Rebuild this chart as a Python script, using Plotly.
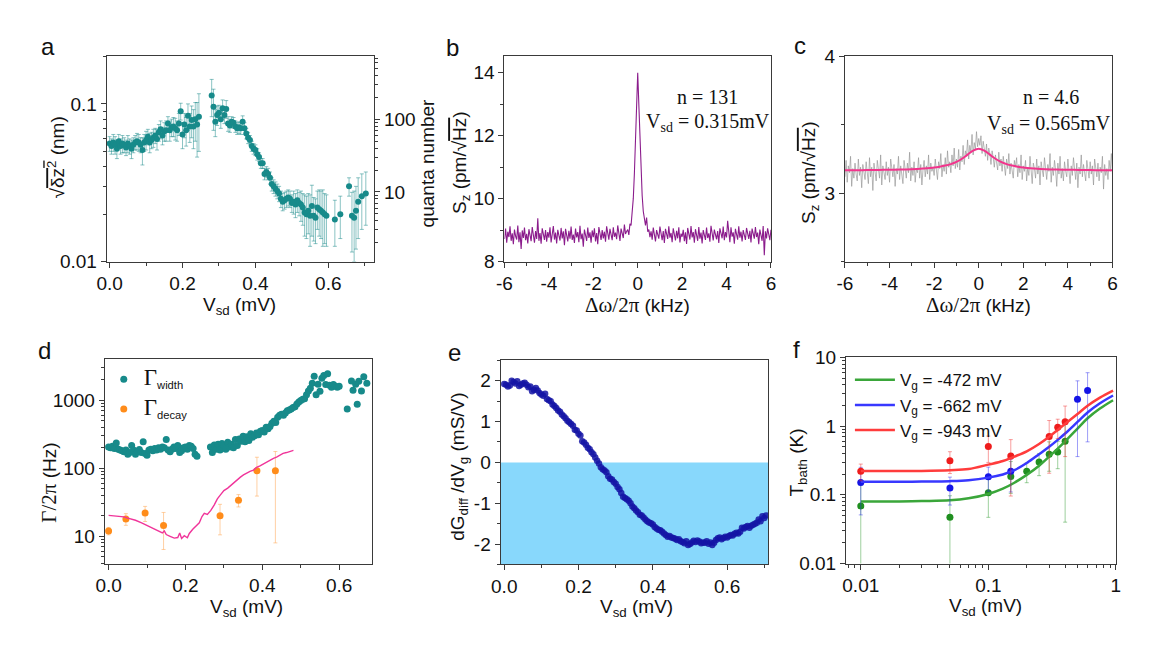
import numpy as np
import plotly.graph_objects as go

W, H = 1152, 650

# ---------------- (a) ----------------
a_vsd = [0.000,0.005,0.010,0.015,0.020,0.025,0.030,0.035,0.040,0.045,
         0.050,0.055,0.060,0.065,0.070,0.075,0.080,0.085,0.090,0.095,
         0.100,0.105,0.110,0.115,0.120,0.125,0.130,0.135,0.140,0.145,
         0.150,0.155,0.160,0.165,0.170,0.175,0.180,0.185,0.190,0.195,
         0.200,0.205,0.210,0.215,0.220,0.225,0.230,0.235,0.240,0.245,
         0.280,0.285,0.290,0.295,0.300,0.305,0.310,0.315,0.320,0.325,
         0.330,0.335,0.340,0.345,0.350,0.355,0.360,0.365,0.370,0.375,
         0.380,0.385,0.390,0.395,0.400,0.405,0.410,0.415,0.420,0.425,
         0.430,0.435,0.440,0.445,0.450,0.455,0.460,0.465,0.470,0.475,
         0.480,0.485,0.490,0.495,0.500,0.505,0.510,0.515,0.520,0.525,
         0.530,0.535,0.540,0.545,0.550,0.555,0.560,0.565,0.570,0.575,
         0.580,0.585,0.590,0.595,
         0.618,0.633,0.657,0.665,0.671,0.676,0.682,0.692,0.703]
a_dz = [0.056,0.054,0.057,0.055,0.052,0.058,0.054,0.056,0.055,0.053,
        0.056,0.054,0.052,0.055,0.057,0.058,0.057,0.055,0.051,0.057,
        0.059,0.062,0.057,0.059,0.061,0.063,0.060,0.066,0.069,0.063,
        0.067,0.068,0.075,0.068,0.071,0.072,0.070,0.068,0.075,0.090,
        0.064,0.074,0.068,0.084,0.072,0.079,0.072,0.080,0.074,0.083,
        0.113,0.096,0.077,0.085,0.088,0.080,0.094,0.085,0.093,0.075,
        0.073,0.077,0.076,0.072,0.070,0.071,0.070,0.077,0.070,0.065,
        0.061,0.059,0.054,0.052,0.051,0.048,0.046,0.042,0.042,0.036,
        0.037,0.036,0.034,0.031,0.030,0.029,0.028,0.027,0.025,0.024,
        0.0245,0.025,0.0255,0.025,0.0235,0.024,0.023,0.0245,0.0235,0.023,
        0.022,0.0205,0.020,0.021,0.0195,0.0225,0.0195,0.019,0.022,0.0215,
        0.021,0.0205,0.020,0.0195,
        0.0185,0.020,0.030,0.0195,0.019,0.021,0.024,0.026,0.027]
a_err = [0.006,0.006,0.007,0.007,0.007,0.006,0.006,0.007,0.006,0.006,
         0.007,0.006,0.007,0.006,0.006,0.007,0.007,0.006,0.010,0.007,
         0.008,0.007,0.008,0.007,0.008,0.007,0.009,0.008,0.009,0.008,
         0.009,0.010,0.008,0.010,0.009,0.010,0.011,0.010,0.012,0.011,
         0.012,0.013,0.014,0.016,0.015,0.018,0.020,0.022,0.028,0.033,
         0.030,0.028,0.015,0.012,0.010,0.010,0.012,0.010,0.012,0.008,
         0.007,0.006,0.006,0.006,0.006,0.006,0.006,0.007,0.006,0.005,
         0.005,0.004,0.004,0.004,0.004,0.004,0.003,0.003,0.003,0.003,
         0.003,0.003,0.003,0.003,0.003,0.003,0.003,0.003,0.003,0.003,
         0.003,0.003,0.003,0.003,0.003,0.004,0.004,0.004,0.004,0.005,
         0.005,0.006,0.006,0.006,0.007,0.008,0.006,0.006,0.006,0.007,
         0.007,0.008,0.007,0.007,
         0.006,0.006,0.004,0.008,0.009,0.009,0.010,0.010,0.010]

# ---------------- (b) ----------------
b_freq = np.round(np.arange(-6.0, 6.0001, 0.05), 2)
b_sz = [8.72,9.05,8.60,8.95,8.78,9.12,8.66,8.90,8.55,9.02,8.81,8.70,9.15,8.62,8.93,8.40,8.99,8.75,9.08,8.68,
        8.88,8.58,9.03,8.79,8.65,9.10,8.84,8.60,8.97,8.72,9.38,8.66,8.91,8.57,9.06,8.80,8.69,9.00,8.63,8.94,
        8.76,9.09,8.61,8.87,9.13,8.70,8.92,8.58,9.01,8.83,8.67,9.07,8.74,8.96,8.52,9.04,8.82,8.64,8.98,8.73,
        9.11,8.69,8.86,8.59,9.05,8.77,8.94,8.62,9.14,8.71,8.89,8.47,9.02,8.80,8.66,9.08,8.75,8.93,8.60,8.99,
        8.78,9.06,8.64,8.91,8.55,9.10,8.83,8.69,9.00,8.74,8.95,8.63,9.12,8.81,8.70,9.04,8.86,8.68,9.09,8.79,
        8.92,8.71,9.15,8.84,8.66,9.05,8.90,8.75,9.18,8.88,8.96,9.02,8.85,9.20,9.15,9.50,10.00,10.80,11.80,12.90,
        14.00,
        13.00,11.90,10.90,10.10,9.60,9.30,9.15,9.40,8.95,9.02,8.78,8.96,8.70,9.08,8.82,8.64,9.00,8.86,8.73,9.11,
        8.80,8.68,8.97,8.59,9.04,8.85,8.72,9.12,8.76,8.91,8.62,9.06,8.83,8.67,8.98,8.74,9.09,8.61,8.89,8.79,
        9.01,8.65,8.93,8.56,9.07,8.81,8.70,9.13,8.77,8.94,8.60,9.03,8.85,8.66,9.10,8.73,8.92,8.58,9.00,8.84,
        8.69,9.08,8.75,8.90,8.63,9.14,8.80,8.67,9.02,8.86,8.71,8.97,8.59,9.06,8.82,8.74,9.11,8.68,8.94,8.77,
        9.30,8.88,8.62,9.09,8.79,8.93,8.57,9.04,8.83,8.70,9.12,8.76,8.95,8.64,9.00,8.81,8.69,9.07,8.85,8.72,
        8.98,8.61,9.05,8.84,8.73,9.10,8.78,8.92,8.55,9.02,8.87,8.66,9.13,8.20,8.96,8.74,9.06,8.80,8.68,9.01]

# ---------------- (c) ----------------
c_freq = np.round(np.arange(-6.0, 6.0001, 0.05), 2)
c_sz = [3.12,3.24,3.08,3.20,3.15,3.27,3.05,3.18,3.11,3.22,3.14,3.09,3.25,3.13,3.19,3.04,3.21,3.16,3.10,3.23,
        3.17,3.07,3.26,3.12,3.19,3.02,3.22,3.14,3.09,3.24,3.18,3.11,3.28,3.06,3.20,3.15,3.10,3.23,3.13,3.19,
        3.08,3.25,3.16,3.12,3.21,3.05,3.18,3.14,3.27,3.10,3.20,3.13,3.07,3.24,3.17,3.11,3.22,3.15,3.30,3.09,
        3.19,3.13,3.23,3.08,3.18,3.15,3.26,3.11,3.21,3.06,3.17,3.24,3.12,3.20,3.14,3.28,3.10,3.22,3.16,3.19,
        3.13,3.25,3.17,3.10,3.23,3.18,3.29,3.12,3.21,3.16,3.26,3.14,3.31,3.19,3.23,3.15,3.28,3.20,3.33,3.18,
        3.25,3.19,3.32,3.17,3.27,3.23,3.35,3.21,3.31,3.27,3.39,3.25,3.35,3.30,3.43,3.28,3.37,3.32,3.45,3.34,
        3.40,
        3.35,3.42,3.29,3.38,3.32,3.27,3.36,3.24,3.33,3.29,3.21,3.31,3.26,3.19,3.28,3.23,3.17,3.30,3.20,3.25,
        3.16,3.27,3.20,3.13,3.25,3.18,3.29,3.14,3.22,3.17,3.11,3.24,3.19,3.26,3.12,3.21,3.15,3.28,3.10,3.20,
        3.16,3.24,3.09,3.19,3.13,3.27,3.15,3.07,3.22,3.18,3.11,3.25,3.14,3.20,3.06,3.23,3.17,3.12,3.26,3.15,
        3.10,3.21,3.16,3.29,3.08,3.19,3.13,3.24,3.17,3.05,3.22,3.14,3.27,3.11,3.18,3.09,3.23,3.16,3.12,3.25,
        3.15,3.07,3.20,3.13,3.26,3.17,3.10,3.22,3.04,3.19,3.14,3.28,3.12,3.21,3.16,3.09,3.24,3.18,3.11,3.23,
        3.14,3.20,3.06,3.25,3.17,3.12,3.22,3.09,3.19,3.15,3.27,3.03,3.21,3.13,3.18,3.10,3.24,3.16,3.29,3.14]
c_fit_freq = [-6,-5.5,-5,-4.5,-4,-3.5,-3,-2.5,-2,-1.75,-1.5,-1.25,-1,-0.75,-0.5,-0.25,0,
              0.25,0.5,0.75,1,1.25,1.5,1.75,2,2.5,3,3.5,4,4.5,5,5.5,6]
c_fit_sz = [3.168,3.168,3.169,3.170,3.172,3.173,3.176,3.181,3.188,3.194,3.202,3.213,3.229,3.252,3.282,3.311,3.325,
            3.311,3.282,3.252,3.229,3.213,3.202,3.194,3.188,3.181,3.176,3.173,3.172,3.170,3.169,3.168,3.168]

# ---------------- (d) ----------------
d_vsd_w = [0.000,0.005,0.010,0.015,0.020,0.025,0.030,0.035,0.040,0.045,
           0.050,0.055,0.060,0.065,0.070,0.075,0.080,0.085,0.090,0.095,
           0.100,0.105,0.110,0.115,0.120,0.125,0.130,0.135,0.140,0.145,
           0.150,0.155,0.160,0.165,0.170,0.175,0.180,0.185,0.190,0.195,
           0.200,0.205,0.210,0.215,0.220,0.225,0.230,
           0.265,0.270,0.275,0.280,0.285,0.290,0.295,0.300,0.305,0.310,
           0.315,0.320,0.325,0.330,0.335,0.340,0.345,0.350,0.355,0.360,
           0.365,0.370,0.375,0.380,0.385,0.390,0.395,0.400,0.405,0.410,
           0.415,0.420,0.425,0.430,0.435,0.440,0.445,0.450,0.455,0.460,
           0.465,0.470,0.475,0.480,0.485,0.490,0.495,0.500,0.505,0.510,
           0.515,0.520,0.525,0.530,0.535,0.540,0.545,0.550,0.555,0.560,
           0.565,0.570,0.575,0.580,0.585,0.590,0.595,0.600,
           0.621,0.632,0.636,0.643,0.647,0.651,0.658,0.664,0.672]
d_width = [205,200,210,195,235,190,185,180,175,185,
           160,170,215,185,160,178,188,170,245,165,
           155,185,190,180,195,185,200,190,205,200,
           265,185,175,190,205,195,215,170,180,200,
           205,190,215,210,195,160,150,
           205,170,220,190,225,185,230,215,190,240,
           205,225,200,265,215,270,250,295,245,290,
           255,320,285,300,330,310,350,360,340,400,
           380,410,460,490,470,560,600,620,600,650,
           700,720,740,780,800,880,940,990,1030,1050,
           1200,1360,1500,1780,2250,1200,1720,1350,2100,2300,
           1700,2450,1650,1550,1700,1600,1550,1600,
           740,1920,1400,1720,870,1900,1360,2200,1780]
d_vsd_decay = [0.000,0.045,0.095,0.143,0.290,0.338,0.386,0.434]
d_decay = [12.0,18.0,22.0,14.4,20.0,34.0,92.0,92.0]
d_decay_err = [1.5,3.5,5.5,8.0,9.5,7.0,53.0,84.0]
d_fit_vsd = [0.000,0.020,0.040,0.050,0.070,0.086,0.100,0.120,0.130,0.140,0.145,0.150,0.160,0.171,
             0.180,0.185,0.190,0.197,0.205,0.210,0.219,0.230,0.236,0.243,0.249,0.257,0.266,0.275,
             0.283,0.290,0.300,0.310,0.318,0.326,0.335,0.343,0.351,0.360,0.368,0.377,0.385,0.394,
             0.403,0.412,0.420,0.429,0.437,0.446,0.454,0.463,0.472,0.481]
d_fit = [20.3,20.0,19.3,18.5,17.2,15.8,14.5,12.7,12.0,11.2,12.0,10.6,10.0,9.4,
         9.6,11.2,9.3,10.2,9.5,11.0,12.7,14.5,15.8,19.5,21.8,21.0,24.0,29.0,
         35.5,40.0,47.0,51.0,56.0,62.0,68.0,74.0,80.0,86.0,90.0,94.0,103.0,108.0,
         116.0,124.0,131.0,140.0,146.0,156.0,165.0,170.0,176.0,183.0]

# ---------------- (e) ----------------
e_vsd = np.round(np.arange(0.0, 0.7051, 0.005), 3)
e_dgdv = [1.92,1.90,1.86,1.88,2.00,1.97,1.93,1.99,1.87,1.90,
          1.93,1.95,1.90,1.84,1.86,1.74,1.78,1.82,1.76,1.70,
          1.66,1.63,1.68,1.55,1.52,1.50,1.42,1.38,1.33,1.27,
          1.24,1.17,1.13,1.08,1.02,0.98,0.94,0.90,0.80,0.78,
          0.70,0.66,0.52,0.49,0.43,0.36,0.32,0.25,0.20,0.12,
          0.04,-0.03,-0.12,-0.17,-0.20,-0.24,-0.34,-0.40,-0.42,-0.48,
          -0.52,-0.60,-0.66,-0.75,-0.84,-0.87,-0.90,-0.94,-1.00,-1.08,
          -1.12,-1.18,-1.22,-1.28,-1.30,-1.35,-1.40,-1.44,-1.47,-1.49,
          -1.52,-1.58,-1.62,-1.65,-1.66,-1.70,-1.74,-1.78,-1.82,-1.80,
          -1.84,-1.85,-1.87,-1.90,-1.88,-1.93,-1.95,-1.98,-1.93,-2.02,
          -2.00,-1.96,-1.92,-1.95,-1.91,-1.94,-1.98,-1.96,-1.97,-1.93,
          -1.99,-1.96,-2.02,-1.97,-1.90,-1.86,-1.84,-1.88,-1.85,-1.82,
          -1.84,-1.80,-1.78,-1.79,-1.75,-1.72,-1.74,-1.70,-1.60,-1.62,
          -1.58,-1.56,-1.60,-1.55,-1.53,-1.50,-1.48,-1.40,-1.44,-1.32,
          -1.36,-1.30]

# ---------------- (f) ----------------
f_labels = ["V<sub>g</sub> = -472 mV", "V<sub>g</sub> = -662 mV", "V<sub>g</sub> = -943 mV"]
f_vsd_g = [0.01,0.05,0.10,0.15,0.20,0.25,0.30,0.35,0.40]
f_t_g = [0.069,0.047,0.107,0.185,0.22,0.30,0.39,0.42,0.60]
f_ep_g = [0.07,0.05,0.06,0.12,0.07,0.10,0.20,0.18,0.56]
f_em_g = [0.07,0.05,0.06,0.08,0.07,0.11,0.17,0.18,0.56]
f_vsd_b = [0.01,0.05,0.10,0.15,0.50,0.60]
f_t_b = [0.151,0.126,0.183,0.22,2.46,3.29]
f_e_b = [0.10,0.055,0.07,0.11,2.1,2.7]
f_vsd_r = [0.01,0.05,0.10,0.15,0.30,0.35,0.40]
f_t_r = [0.22,0.314,0.506,0.366,0.706,0.96,1.16]
f_e_r = [0.06,0.11,0.21,0.27,0.50,0.30,0.80]
f_fit_vsd = [0.01,0.02,0.03,0.05,0.07,0.10,0.13,0.16,0.20,0.25,0.30,0.35,0.40,0.50,0.60,0.75,0.95]
f_fit_g = [0.080,0.080,0.081,0.083,0.089,0.103,0.123,0.150,0.195,0.265,0.36,0.47,0.60,0.92,1.30,1.80,2.38]
f_fit_b = [0.155,0.155,0.156,0.158,0.163,0.178,0.198,0.228,0.29,0.39,0.50,0.63,0.78,1.15,1.58,2.15,2.79]
f_fit_r = [0.222,0.222,0.223,0.228,0.237,0.275,0.31,0.36,0.43,0.55,0.70,0.88,1.08,1.50,1.98,2.60,3.29]

# ---------------- helpers ----------------
def xd(l, r):
    return [l / W, r / W]

def yd(t, b):
    return [1 - b / H, 1 - t / H]

FRAME = "#3a3a3a"
TICKFONT = dict(family="Liberation Sans", size=19, color="#111")

def ax(**kw):
    base = dict(showline=True, linecolor=FRAME, linewidth=1, mirror=True,
                ticks="outside", ticklen=5, tickwidth=1, tickcolor=FRAME,
                showgrid=False, zeroline=False, tickfont=TICKFONT)
    base.update(kw)
    return base

TEAL = "#178a8a"
fig = go.Figure()

# (a)
fig.add_trace(go.Scatter(x=a_vsd, y=a_dz, mode="markers", xaxis="x", yaxis="y",
                         marker=dict(color=TEAL, size=6),
                         error_y=dict(type="data", array=a_err, color="rgba(23,138,138,0.5)",
                                      thickness=1, width=2),
                         showlegend=False))
fig.add_trace(go.Scatter(x=[], y=[], xaxis="x", yaxis="y7", showlegend=False))

# (b)
fig.add_trace(go.Scatter(x=b_freq, y=b_sz, mode="lines", xaxis="x2", yaxis="y2",
                         line=dict(color="#8b1c8c", width=1.1), showlegend=False))

# (c)
fig.add_trace(go.Scatter(x=c_freq, y=c_sz, mode="lines", xaxis="x3", yaxis="y3",
                         line=dict(color="rgba(150,150,150,0.85)", width=0.8), showlegend=False))
fig.add_trace(go.Scatter(x=c_fit_freq, y=c_fit_sz, mode="lines", xaxis="x3", yaxis="y3",
                         line=dict(color="#f2348c", width=2, shape="spline"), showlegend=False))

# (d)
serif_G = "<span style='font-family:Liberation Serif;font-size:23px'>Γ</span>"
fig.add_trace(go.Scatter(x=d_vsd_w, y=d_width, mode="markers", xaxis="x4", yaxis="y4",
                         marker=dict(color=TEAL, size=7), name=serif_G + "<sub>width</sub>",
                         legend="legend", legendgroup="gw"))
fig.add_trace(go.Scatter(x=d_vsd_decay, y=d_decay, mode="markers", xaxis="x4", yaxis="y4",
                         marker=dict(color="#ff8c1a", size=7), name=serif_G + "<sub>decay</sub>",
                         error_y=dict(type="data", array=d_decay_err, color="rgba(255,170,90,0.55)",
                                      thickness=1, width=2),
                         legend="legend", legendgroup="gd"))
fig.add_trace(go.Scatter(x=d_fit_vsd, y=d_fit, mode="lines", xaxis="x4", yaxis="y4",
                         line=dict(color="#f0359a", width=1.4), showlegend=False))

# (e)
fig.add_trace(go.Scatter(x=e_vsd, y=e_dgdv, mode="markers", xaxis="x5", yaxis="y5",
                         marker=dict(color="rgba(20,20,165,0.85)", size=6.5), showlegend=False))

# (f)
f_sets = [(f_vsd_g, f_t_g, f_ep_g, f_em_g, f_fit_g, "#1f8f1f", "#3aa63a", "rgba(40,150,40,0.45)"),
          (f_vsd_b, f_t_b, f_e_b, f_e_b, f_fit_b, "#1414e6", "#3838ff", "rgba(40,40,240,0.45)"),
          (f_vsd_r, f_t_r, f_e_r, f_e_r, f_fit_r, "#ee1c1c", "#ff3c3c", "rgba(240,40,40,0.45)")]
for (vx, ty, ep, em, fit, pc, lc, ec), lab in zip(f_sets, f_labels):
    fig.add_trace(go.Scatter(x=vx, y=ty, mode="markers", xaxis="x6", yaxis="y6",
                             marker=dict(color=pc, size=7),
                             error_y=dict(type="data", array=ep, arrayminus=em, color=ec,
                                          thickness=1, width=2),
                             showlegend=False))
    fig.add_trace(go.Scatter(x=f_fit_vsd, y=fit, mode="lines", xaxis="x6", yaxis="y6",
                             line=dict(color=lc, width=2.5, shape="spline"), name=lab,
                             legend="legend2"))

minor_lin = lambda d: dict(dtick=d, ticks="outside", ticklen=3, tickcolor=FRAME)
minor_log = dict(dtick="D1", ticks="outside", ticklen=3, tickcolor=FRAME)
pm_ticks = dict(tickvals=[-6, -4, -2, 0, 2, 4, 6], ticktext=["-6", "-4", "-2", "0", "2", "4", "6"])

layout = dict(
    width=W, height=H, margin=dict(l=0, r=0, t=0, b=0),
    paper_bgcolor="white", plot_bgcolor="white",
    xaxis=ax(domain=xd(98, 369), anchor="y", range=[-0.008, 0.726], dtick=0.2, tick0=0,
             tickformat=".1f", minor=minor_lin(0.1)),
    yaxis=ax(domain=yd(48, 260), anchor="x", type="log", range=[-2, np.log10(0.2)], dtick=1,
             minor=minor_log),
    yaxis7=ax(overlaying="y", side="right", anchor="x", type="log", range=[0.04, 2.867], dtick=1,
              mirror=False, minor=minor_log),
    xaxis2=ax(domain=xd(501, 771), anchor="y2", range=[-6, 6], minor=minor_lin(1), **pm_ticks),
    yaxis2=ax(domain=yd(48, 260), anchor="x2", range=[8, 14.52], dtick=2, minor=minor_lin(1)),
    xaxis3=ax(domain=xd(846, 1117), anchor="y3", range=[-6, 6], minor=minor_lin(1), **pm_ticks),
    yaxis3=ax(domain=yd(48, 260), anchor="x3", range=[2.5, 4.0], dtick=1, minor=minor_lin(0.5)),
    xaxis4=ax(domain=xd(96, 367), anchor="y4", range=[-0.01, 0.686], dtick=0.2, tick0=0,
              tickformat=".1f", minor=minor_lin(0.1)),
    yaxis4=ax(domain=yd(361, 572), anchor="x4", type="log", range=[0.6, 3.6], dtick=1,
              exponentformat="none", minor=minor_log),
    xaxis5=ax(domain=xd(497, 768), anchor="y5", range=[-0.01, 0.71], dtick=0.2, tick0=0,
              tickformat=".1f", minor=minor_lin(0.1)),
    yaxis5=ax(domain=yd(362, 573), anchor="x5", range=[-2.5, 2.5],
              tickvals=[-2, -1, 0, 1, 2], ticktext=["-2", "-1", "0", "1", "2"], minor=minor_lin(0.5)),
    xaxis6=ax(domain=xd(847, 1121), anchor="y6", type="log", range=[-2.116, 0.004], dtick=1,
              minor=minor_log),
    yaxis6=ax(domain=yd(359, 572), anchor="x6", type="log", range=[-2, 1], dtick=1,
              minor=minor_log),
    legend=dict(x=95 / W, y=1 - 364 / H, xanchor="left", yanchor="top",
                bgcolor="rgba(0,0,0,0)", font=dict(family="Liberation Sans", size=16, color="#111"),
                tracegroupgap=6),
    legend2=dict(x=851 / W, y=1 - 364 / H, xanchor="left", yanchor="top", itemwidth=40,
                 bgcolor="rgba(0,0,0,0)", font=dict(family="Liberation Sans", size=17, color="#111"),
                 tracegroupgap=0),
    shapes=[dict(type="rect", xref="x5 domain", yref="y5", x0=0, x1=1, y0=-2.5, y1=0,
                 fillcolor="#88d8fc", line=dict(width=0), layer="below")],
)
fig.update_layout(**layout)

SANS = "Liberation Sans"
SERIF = "Liberation Serif"

def note(x, y, text, size=19, angle=0, family=SANS, xanchor="center"):
    fig.add_annotation(x=x / W, y=1 - y / H, xref="paper", yref="paper", text=text,
                       showarrow=False, textangle=angle, xanchor=xanchor, yanchor="middle",
                       font=dict(family=family, size=size, color="#111"))

ovl = "<span style='text-decoration:overline'>"
# panel letters
for lx, ly, lt in [(39, 38, "a"), (448, 39, "b"), (800, 37, "c"),
                   (35, 352, "d"), (450, 354, "e"), (797, 351, "f")]:
    note(lx, ly, lt, size=24)

# axis titles
note(47, 152, "√" + ovl + "δz<sup>2</sup></span> (nm)", angle=-90)
note(233, 306, "V<sub>sd</sub> (mV)")
note(423, 158, "quanta number", angle=-90)
note(457, 158, "S<sub>z</sub> (pm/√" + ovl + "Hz</span>)", angle=-90)
note(636, 305, "<span style='font-family:Liberation Serif;font-size:21px'>Δω/2π</span> (kHz)")
note(810, 168, "S<sub>z</sub> (pm/√" + ovl + "Hz</span>)", angle=-90)
note(981, 305, "<span style='font-family:Liberation Serif;font-size:21px'>Δω/2π</span> (kHz)")
note(40, 488, "<span style='font-family:Liberation Serif;font-size:21px'>Γ/2π</span> (Hz)", angle=-90)
note(240, 618, "V<sub>sd</sub> (mV)")
note(455, 472, "dG<sub>diff</sub> /dV<sub>g</sub> (mS/V)", angle=-90)
note(635, 618, "V<sub>sd</sub> (mV)")
note(798, 468, "T<sub>bath</sub> (K)", angle=-90)
note(988, 617, "V<sub>sd</sub> (mV)")

# in-panel texts
note(707, 90, "n = 131", size=20, family=SERIF)
note(707, 116, "V<sub>sd</sub> = 0.315mV", size=20, family=SERIF)
note(1055, 90, "n = 4.6", size=20, family=SERIF)
note(1053, 118, "V<sub>sd</sub> = 0.565mV", size=20, family=SERIF)

fig.write_html("out.html")
